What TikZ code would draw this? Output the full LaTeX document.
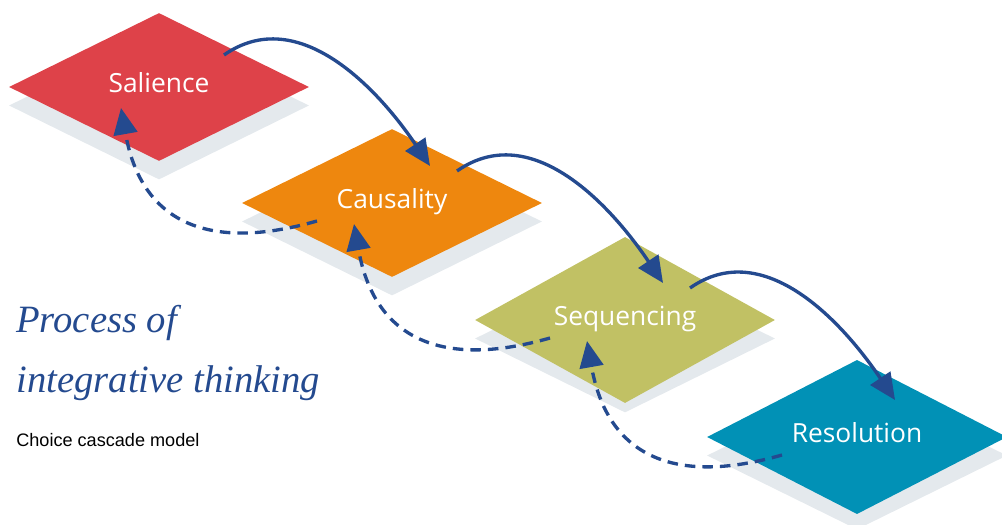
\documentclass[tikz,border=0pt]{standalone}
\usepackage{fontspec}
\setmainfont{Liberation Serif}
\newfontfamily\tilefont{Open Sans}
\newfontfamily\notefont{Liberation Sans}
\usetikzlibrary{shapes.geometric,arrows.meta}
\definecolor{salred}{HTML}{DE4249}
\definecolor{causorange}{HTML}{EE870E}
\definecolor{seqolive}{HTML}{C1C164}
\definecolor{resteal}{HTML}{0191B6}
\definecolor{tileshadow}{HTML}{E4E9ED}
\definecolor{cascadeblue}{HTML}{244A8F}
\begin{document}
\begin{tikzpicture}[
  tile/.style={diamond,minimum width=6cm,minimum height=2.96cm,inner sep=0pt,
    text=white,font=\tilefont\fontsize{15}{18}\selectfont,text height=10pt,text depth=3.5pt},
  tilebase/.style={diamond,minimum width=6cm,minimum height=2.96cm,inner sep=0pt,fill=tileshadow},
  fwd/.style={cascadeblue,line width=1.9pt,-{Triangle[length=15pt,width=13.5pt]}},
  back/.style={fwd,dash pattern=on 6pt off 4pt}
]
\useasboundingbox (0,0) rectangle (20.04,-10.48);
% shadows under the tiles
\node[tilebase] (salbase) at (3.18,-2.11) {};
\node[tilebase] (caubase) at (7.84,-4.43) {};
\node[tilebase] (seqbase) at (12.5,-6.77) {};
\node[tilebase] (resbase) at (17.14,-9.11) {};
% the four steps
\node[tile,fill=salred] (sal) at (3.18,-1.74) {Salience};
\node[tile,fill=causorange] (cau) at (7.84,-4.06) {Causality};
\node[tile,fill=seqolive] (seq) at (12.5,-6.4) {Sequencing};
\node[tile,fill=resteal] (res) at (17.14,-8.74) {Resolution};
% forward arrows
\draw[fwd] ([shift={(1.3,0.64)}]sal.center) to[out=35,in=124] ([shift={(0.76,0.74)}]cau.center);
\draw[fwd] ([shift={(1.3,0.64)}]cau.center) to[out=35,in=124] ([shift={(0.76,0.74)}]seq.center);
\draw[fwd] ([shift={(1.3,0.64)}]seq.center) to[out=35,in=124] ([shift={(0.76,0.74)}]res.center);
% feedback arrows
\draw[back] ([shift={(-1.5,-0.36)}]cau.center) to[out=196,in=-80,looseness=1.3] ([shift={(-0.76,-0.42)}]sal.center);
\draw[back] ([shift={(-1.5,-0.36)}]seq.center) to[out=196,in=-80,looseness=1.3] ([shift={(-0.76,-0.42)}]cau.center);
\draw[back] ([shift={(-1.5,-0.36)}]res.center) to[out=196,in=-80,looseness=1.3] ([shift={(-0.76,-0.42)}]seq.center);
% title
\node[anchor=base west,inner sep=0pt,text=cascadeblue,font=\itshape\fontsize{22}{26}\selectfont] (title1) at (0.32,-6.64) {Process of};
\node[anchor=base west,inner sep=0pt,text=cascadeblue,font=\itshape\fontsize{22}{26}\selectfont] (title2) at (0.32,-7.84) {integrative thinking};
\node[anchor=base west,inner sep=0pt,font=\notefont\fontsize{10.3}{12}\selectfont] (subtitle) at (0.32,-8.92) {Choice cascade model};
\end{tikzpicture}
\end{document}
